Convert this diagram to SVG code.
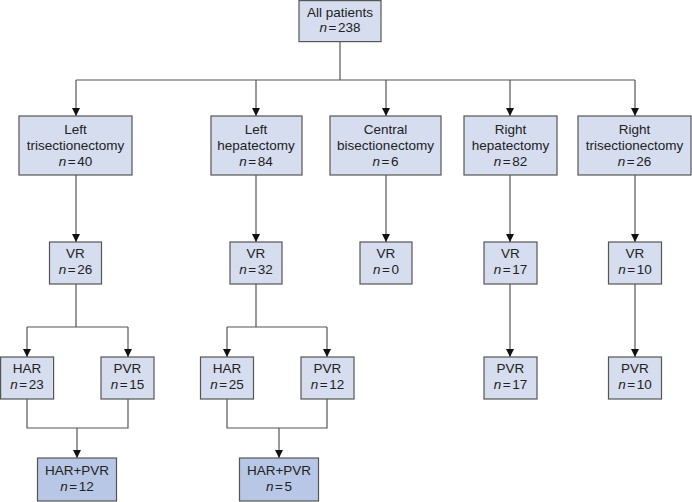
<svg xmlns="http://www.w3.org/2000/svg" width="692" height="502" viewBox="0 0 692 502">
<style>
.b{fill:#d5ddef;stroke:#555;stroke-width:1.2}
.d{fill:#b9c7e6;stroke:#555;stroke-width:1.2}
text{font-family:"Liberation Sans",Arial,sans-serif;font-size:13.5px;fill:#222;text-anchor:middle}
.i{font-style:italic}
.c{fill:none;stroke:#555;stroke-width:1.2}
</style>
<defs>
<marker id="a" viewBox="0 0 10 10" refX="10" refY="5" markerWidth="8" markerHeight="8" markerUnits="userSpaceOnUse" orient="auto">
<path d="M0,0 L10,5 L0,10 Z" fill="#111"/>
</marker>
</defs>
<g id="connectors">
<path class="c" d="M340,41 V80 M76,80 H635"/>
<path class="c" d="M76,80 V116" marker-end="url(#a)"/>
<path class="c" d="M256,80 V116" marker-end="url(#a)"/>
<path class="c" d="M386,80 V116" marker-end="url(#a)"/>
<path class="c" d="M510,80 V116" marker-end="url(#a)"/>
<path class="c" d="M635,80 V116" marker-end="url(#a)"/>
<path class="c" d="M76,175 V242" marker-end="url(#a)"/>
<path class="c" d="M256,175 V242" marker-end="url(#a)"/>
<path class="c" d="M386,175 V242" marker-end="url(#a)"/>
<path class="c" d="M510,175 V242" marker-end="url(#a)"/>
<path class="c" d="M635,175 V242" marker-end="url(#a)"/>
<path class="c" d="M76,284 V327 M27,327 H128"/>
<path class="c" d="M27,327 V357" marker-end="url(#a)"/>
<path class="c" d="M128,327 V357" marker-end="url(#a)"/>
<path class="c" d="M27,399 V428 H128 V399"/>
<path class="c" d="M77,428 V458" marker-end="url(#a)"/>
<path class="c" d="M256,284 V327 M227,327 H327"/>
<path class="c" d="M227,327 V357" marker-end="url(#a)"/>
<path class="c" d="M327,327 V357" marker-end="url(#a)"/>
<path class="c" d="M227,399 V428 H327 V399"/>
<path class="c" d="M279,428 V458" marker-end="url(#a)"/>
<path class="c" d="M510,284 V357" marker-end="url(#a)"/>
<path class="c" d="M635,284 V357" marker-end="url(#a)"/>
</g>
<g id="all"><rect class="b" x="299" y="0.6" width="82" height="41"/><text x="340" y="17">All patients</text><text x="340" y="32"><tspan class="i">n</tspan><tspan dx="1.5">=</tspan><tspan dx="1.5">238</tspan></text></g>
<g id="lt"><rect class="b" x="19" y="116" width="113" height="59"/><text x="75.5" y="134">Left</text><text x="75.5" y="150">trisectionectomy</text><text x="75.5" y="165.5"><tspan class="i">n</tspan><tspan dx="1.5">=</tspan><tspan dx="1.5">40</tspan></text></g>
<g id="lh"><rect class="b" x="211" y="116" width="91" height="59"/><text x="256" y="134">Left</text><text x="256" y="150">hepatectomy</text><text x="256" y="165.5"><tspan class="i">n</tspan><tspan dx="1.5">=</tspan><tspan dx="1.5">84</tspan></text></g>
<g id="cb"><rect class="b" x="330" y="116" width="111" height="59"/><text x="385.5" y="134">Central</text><text x="385.5" y="150">bisectionectomy</text><text x="385.5" y="165.5"><tspan class="i">n</tspan><tspan dx="1.5">=</tspan><tspan dx="1.5">6</tspan></text></g>
<g id="rh"><rect class="b" x="464" y="116" width="93" height="59"/><text x="510.5" y="134">Right</text><text x="510.5" y="150">hepatectomy</text><text x="510.5" y="165.5"><tspan class="i">n</tspan><tspan dx="1.5">=</tspan><tspan dx="1.5">82</tspan></text></g>
<g id="rt"><rect class="b" x="578" y="116" width="113" height="59"/><text x="634.5" y="134">Right</text><text x="634.5" y="150">trisectionectomy</text><text x="634.5" y="165.5"><tspan class="i">n</tspan><tspan dx="1.5">=</tspan><tspan dx="1.5">26</tspan></text></g>
<g id="vr1"><rect class="b" x="49.5" y="242" width="52" height="42"/><text x="75.5" y="258">VR</text><text x="75.5" y="274"><tspan class="i">n</tspan><tspan dx="1.5">=</tspan><tspan dx="1.5">26</tspan></text></g>
<g id="vr2"><rect class="b" x="230" y="242" width="52" height="42"/><text x="256" y="258">VR</text><text x="256" y="274"><tspan class="i">n</tspan><tspan dx="1.5">=</tspan><tspan dx="1.5">32</tspan></text></g>
<g id="vr3"><rect class="b" x="360" y="242" width="52" height="42"/><text x="386" y="258">VR</text><text x="386" y="274"><tspan class="i">n</tspan><tspan dx="1.5">=</tspan><tspan dx="1.5">0</tspan></text></g>
<g id="vr4"><rect class="b" x="484" y="242" width="53" height="42"/><text x="510.5" y="258">VR</text><text x="510.5" y="274"><tspan class="i">n</tspan><tspan dx="1.5">=</tspan><tspan dx="1.5">17</tspan></text></g>
<g id="vr5"><rect class="b" x="608.5" y="242" width="53" height="42"/><text x="635" y="258">VR</text><text x="635" y="274"><tspan class="i">n</tspan><tspan dx="1.5">=</tspan><tspan dx="1.5">10</tspan></text></g>
<g id="har1"><rect class="b" x="0.6" y="357" width="53" height="42"/><text x="27" y="373">HAR</text><text x="27" y="389"><tspan class="i">n</tspan><tspan dx="1.5">=</tspan><tspan dx="1.5">23</tspan></text></g>
<g id="pvr1"><rect class="b" x="101" y="357" width="53" height="42"/><text x="127.5" y="373">PVR</text><text x="127.5" y="389"><tspan class="i">n</tspan><tspan dx="1.5">=</tspan><tspan dx="1.5">15</tspan></text></g>
<g id="har2"><rect class="b" x="200.5" y="357" width="53" height="42"/><text x="227" y="373">HAR</text><text x="227" y="389"><tspan class="i">n</tspan><tspan dx="1.5">=</tspan><tspan dx="1.5">25</tspan></text></g>
<g id="pvr2"><rect class="b" x="301" y="357" width="53" height="42"/><text x="327.5" y="373">PVR</text><text x="327.5" y="389"><tspan class="i">n</tspan><tspan dx="1.5">=</tspan><tspan dx="1.5">12</tspan></text></g>
<g id="pvr4"><rect class="b" x="484" y="357" width="53" height="42"/><text x="510.5" y="373">PVR</text><text x="510.5" y="389"><tspan class="i">n</tspan><tspan dx="1.5">=</tspan><tspan dx="1.5">17</tspan></text></g>
<g id="pvr5"><rect class="b" x="608.5" y="357" width="53" height="42"/><text x="635" y="373">PVR</text><text x="635" y="389"><tspan class="i">n</tspan><tspan dx="1.5">=</tspan><tspan dx="1.5">10</tspan></text></g>
<g id="hp1"><rect class="d" x="37.5" y="458" width="79" height="43"/><text x="77" y="475">HAR+PVR</text><text x="77" y="491"><tspan class="i">n</tspan><tspan dx="1.5">=</tspan><tspan dx="1.5">12</tspan></text></g>
<g id="hp2"><rect class="d" x="239.5" y="458" width="79" height="43"/><text x="279" y="475">HAR+PVR</text><text x="279" y="491"><tspan class="i">n</tspan><tspan dx="1.5">=</tspan><tspan dx="1.5">5</tspan></text></g>
</svg>
